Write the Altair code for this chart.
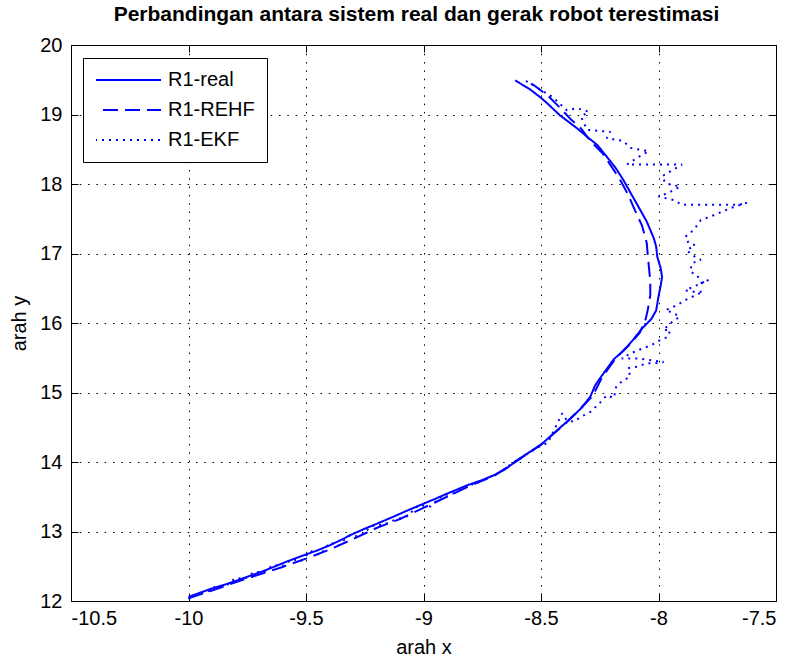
import altair as alt
import pandas as pd

title_text = "Perbandingan antara sistem real dan gerak robot terestimasi"
series_names = ["R1-real", "R1-REHF", "R1-EKF"]
x_ticks = [-10.5, -10, -9.5, -9, -8.5, -8, -7.5]
y_ticks = [12, 13, 14, 15, 16, 17, 18, 19, 20]

real_x = [-10.00, -9.95, -9.90, -9.85, -9.79, -9.74, -9.69, -9.63, -9.58, -9.50,
          -9.45, -9.40, -9.35, -9.31, -9.25, -9.20, -9.13, -9.07, -9.00, -8.95,
          -8.91, -8.86, -8.81, -8.75, -8.70, -8.65, -8.60, -8.55, -8.50, -8.45,
          -8.39, -8.33, -8.29, -8.27, -8.25, -8.19, -8.15, -8.11, -8.07, -8.03,
          -8.01, -8.00, -7.99, -7.985, -7.99, -8.005, -8.01, -8.02, -8.05, -8.08,
          -8.11, -8.15, -8.18, -8.21, -8.26, -8.30, -8.35, -8.42, -8.47, -8.50,
          -8.55, -8.61]
real_y = [12.06, 12.12, 12.18, 12.23, 12.30, 12.36, 12.42, 12.50, 12.57, 12.67,
          12.73, 12.80, 12.88, 12.95, 13.04, 13.11, 13.21, 13.30, 13.40, 13.47,
          13.53, 13.60, 13.67, 13.74, 13.81, 13.90, 14.03, 14.14, 14.25, 14.40,
          14.58, 14.77, 14.94, 15.10, 15.20, 15.48, 15.60, 15.75, 15.92, 16.06,
          16.18, 16.38, 16.55, 16.66, 16.78, 16.95, 17.10, 17.22, 17.46, 17.64,
          17.82, 18.06, 18.22, 18.35, 18.56, 18.67, 18.81, 18.99, 19.15, 19.24,
          19.37, 19.49]

rehf_x = [-10.00, -9.90, -9.80, -9.70, -9.60, -9.50, -9.40, -9.30, -9.20, -9.10,
          -9.00, -8.90, -8.80, -8.70, -8.60, -8.50, -8.40, -8.34, -8.28, -8.24,
          -8.18, -8.12, -8.08, -8.055, -8.045, -8.035, -8.035, -8.04, -8.045, -8.05,
          -8.07, -8.10, -8.13, -8.16, -8.19, -8.24, -8.29, -8.33, -8.37, -8.42,
          -8.47, -8.53, -8.56]
rehf_y = [12.04, 12.15, 12.27, 12.38, 12.49, 12.61, 12.74, 12.89, 13.05, 13.18,
          13.34, 13.50, 13.66, 13.80, 14.02, 14.25, 14.54, 14.74, 14.95, 15.22,
          15.50, 15.70, 15.86, 16.05, 16.20, 16.40, 16.60, 16.78, 16.95, 17.15,
          17.40, 17.62, 17.85, 18.04, 18.20, 18.45, 18.62, 18.80, 18.92, 19.10,
          19.27, 19.42, 19.48]

ekf_x = [-10.00, -9.96, -9.92, -9.88, -9.84, -9.80, -9.76, -9.72, -9.68, -9.64,
         -9.60, -9.56, -9.52, -9.48, -9.44, -9.40, -9.36, -9.32, -9.27, -9.22,
         -9.17, -9.12, -9.07, -9.02, -8.97, -8.92, -8.87, -8.82, -8.77, -8.72,
         -8.67, -8.62, -8.57, -8.52, -8.47, -8.41, -8.39, -8.36, -8.33, -8.29,
         -8.25, -8.22, -8.19, -8.18, -8.156, -8.12, -8.13, -8.092, -8.05, -8.014,
         -7.978, -8.09, -8.156, -8.13, -8.10, -8.064, -8.03, -7.99, -7.96, -7.95,
         -7.98, -7.94, -7.91, -7.936, -7.97, -7.95, -7.92, -7.886, -7.81, -7.85,
         -7.886, -7.787, -7.815, -7.837, -7.865, -7.858, -7.82, -7.858, -7.88, -7.844,
         -7.872, -7.886, -7.85, -7.82, -7.78, -7.745, -7.71, -7.68, -7.624, -7.66,
         -7.75, -7.85, -7.90, -7.936, -8.00, -7.96, -7.908, -7.97, -7.985, -7.90,
         -7.95, -8.05, -8.134, -8.085, -8.042, -8.12, -8.15, -8.22, -8.205, -8.304,
         -8.33, -8.297, -8.347, -8.39, -8.45, -8.50, -8.545, -8.57]
ekf_y = [12.03, 12.10, 12.13, 12.22, 12.22, 12.33, 12.32, 12.42, 12.41, 12.52,
         12.50, 12.60, 12.58, 12.72, 12.66, 12.84, 12.80, 12.94, 12.93, 13.08,
         13.10, 13.17, 13.22, 13.38, 13.36, 13.52, 13.55, 13.65, 13.70, 13.78,
         13.86, 13.99, 14.09, 14.20, 14.28, 14.70, 14.60, 14.58, 14.65, 14.72,
         14.85, 14.96, 14.92, 15.08, 15.16, 15.23, 15.35, 15.37, 15.42, 15.42,
         15.44, 15.49, 15.49, 15.54, 15.59, 15.64, 15.68, 15.76, 15.80, 15.90,
         15.90, 16.02, 16.09, 16.14, 16.19, 16.21, 16.26, 16.33, 16.45, 16.45,
         16.47, 16.62, 16.57, 16.69, 16.74, 16.86, 16.91, 16.98, 17.05, 17.12,
         17.15, 17.24, 17.34, 17.48, 17.53, 17.58, 17.63, 17.67, 17.73, 17.70,
         17.70, 17.70, 17.70, 17.77, 17.82, 17.87, 17.96, 18.01, 18.11, 18.28,
         18.28, 18.28, 18.28, 18.39, 18.47, 18.52, 18.62, 18.66, 18.75, 18.78,
         18.97, 19.04, 19.09, 19.06, 19.25, 19.35, 19.45, 19.49]

rows = []
for name, xs, ys in zip(series_names, [real_x, rehf_x, ekf_x], [real_y, rehf_y, ekf_y]):
    for i, (a, b) in enumerate(zip(xs, ys)):
        rows.append({"series": name, "x": a, "y": b, "idx": i})
df = pd.DataFrame(rows)

FONT = "Liberation Sans"
xscale = alt.Scale(domain=[-10.5, -7.5], nice=False, zero=False)
yscale = alt.Scale(domain=[12, 20], nice=False, zero=False)

main = alt.Chart(df).mark_line(color="#0000ff", strokeWidth=2, strokeCap="butt", strokeJoin="bevel").encode(
    x=alt.X("x:Q", scale=xscale, axis=alt.Axis(
        orient="bottom", values=x_ticks, title="arah x", labelExpr="'' + datum.value",
        grid=True, domain=False, ticks=True, tickSize={"expr": "-7"}, labelPadding=14,
        titlePadding=9)),
    y=alt.Y("y:Q", scale=yscale, axis=alt.Axis(
        orient="left", values=y_ticks, title="arah y", labelExpr="'' + datum.value",
        grid=True, domain=False, ticks=True, tickSize={"expr": "-7"}, labelPadding=16,
        titlePadding=10)),
    strokeDash=alt.StrokeDash("series:N", scale=alt.Scale(domain=series_names, range=[[1, 0], [15, 7], [2, 5]]),
        legend=alt.Legend(
            title=None, orient="none", legendX=12, legendY=13, direction="vertical",
            fillColor="white", strokeColor="black", padding=12, rowPadding=10,
            symbolType="stroke", symbolSize=4225, symbolStrokeWidth=2, symbolStrokeColor="#0000ff",
            symbolDashOffset=15, labelFont=FONT, labelFontSize=20, labelColor="black",
            labelOffset=6, clipHeight=20, labelLimit=300)),
    order=alt.Order("idx:Q"),
)

frame = alt.Chart(df).mark_line(opacity=0).encode(
    x=alt.X("x:Q", scale=xscale, axis=alt.Axis(
        orient="top", values=x_ticks, labels=False, grid=False, domain=False, ticks=True,
        tickSize={"expr": "-7"}, title=None)),
    y=alt.Y("y:Q", scale=yscale, axis=alt.Axis(
        orient="right", values=y_ticks, labels=False, grid=False, domain=False, ticks=True,
        tickSize={"expr": "-7"}, title=None)),
    detail="series:N",
    order=alt.Order("idx:Q"),
)

chart = alt.layer(main, frame).resolve_axis(x="independent", y="independent").properties(
    width=705, height=556,
    background="white",
    title=alt.TitleParams(text=title_text, font=FONT, fontSize=21, fontWeight="bold", color="black",
                          anchor="middle", frame="group", offset=10, dx=-7),
    autosize=alt.AutoSizeParams(type="none"),
    padding={"left": 71, "top": 45, "right": 16, "bottom": 58},
).configure_view(stroke="black", strokeWidth=1).configure_axis(
    labelFont=FONT, labelFontSize=20, labelColor="black",
    titleFont=FONT, titleFontSize=20, titleFontWeight="normal", titleColor="black",
    tickColor="black", tickWidth=1,
    gridColor="black", gridOpacity=1, gridWidth=1, gridDash=[1.5, 6.8],
)

chart.save("out.html", embed_options={"renderer": "svg", "actions": False})
